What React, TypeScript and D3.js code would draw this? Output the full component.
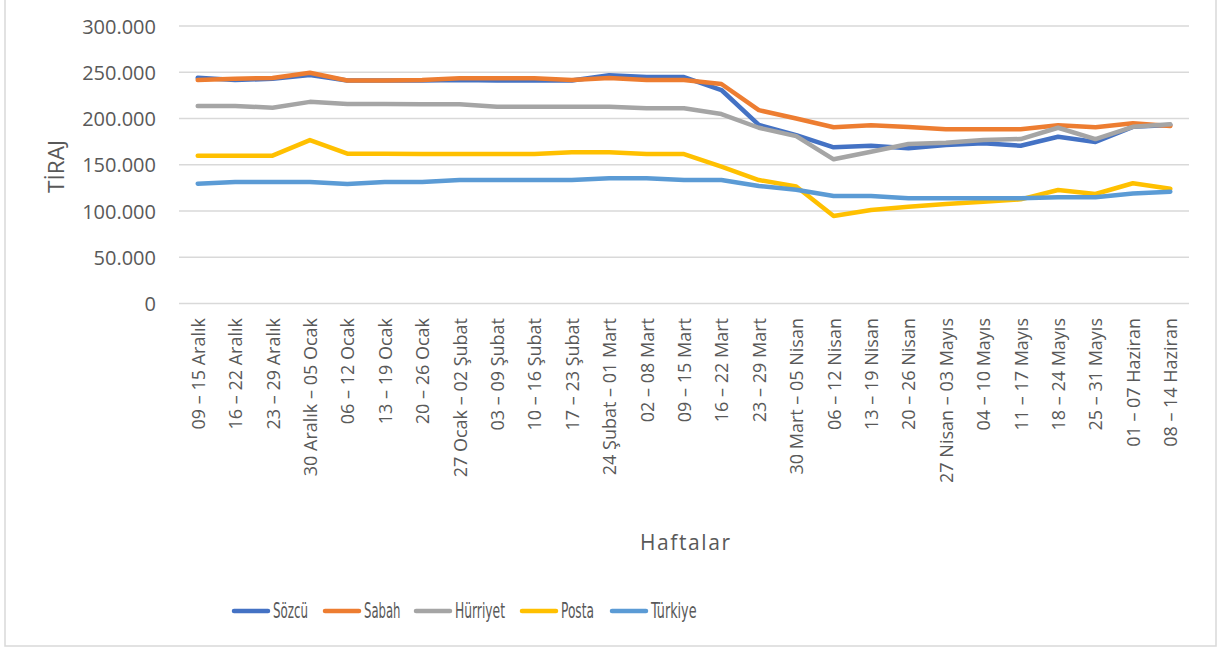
import React from "react";
import * as d3 from "d3";

const categories = [
  "09 – 15 Aralık", "16 – 22 Aralık", "23 – 29 Aralık", "30 Aralık – 05 Ocak",
  "06 – 12 Ocak", "13 – 19 Ocak", "20 – 26 Ocak", "27 Ocak – 02 Şubat",
  "03 – 09 Şubat", "10 – 16 Şubat", "17 – 23 Şubat", "24 Şubat – 01 Mart",
  "02 – 08 Mart", "09 – 15 Mart", "16 – 22 Mart", "23 – 29 Mart",
  "30 Mart – 05 Nisan", "06 – 12 Nisan", "13 – 19 Nisan", "20 – 26 Nisan",
  "27 Nisan – 03 Mayıs", "04 – 10 Mayıs", "11 – 17 Mayıs", "18 – 24 Mayıs",
  "25 – 31 Mayıs", "01 – 07 Haziran", "08 – 14 Haziran",
];

const sozcu = [244000, 241500, 243000, 247000, 241000, 241000, 241000, 241500, 241000, 241000, 241000, 246700, 244800, 244800, 230800, 193000, 182000, 168800, 170600, 167800, 171300, 173200, 170600, 180300, 174600, 191000, 193000];
const sabah = [241600, 243000, 243800, 249500, 241000, 241000, 241600, 243400, 243400, 243400, 241600, 243800, 241600, 241600, 237300, 209000, 200000, 190500, 192600, 190800, 188300, 188300, 188300, 192600, 190500, 194800, 191900];
const hurriyet = [213500, 213500, 211700, 218000, 215700, 215700, 215300, 215300, 212700, 212700, 212700, 212700, 211000, 211000, 204800, 190000, 181000, 155900, 164000, 172400, 173800, 176700, 177800, 190000, 177800, 191000, 193700];
const posta = [159800, 159800, 159800, 176700, 162000, 162000, 161600, 161600, 161600, 161600, 163400, 163400, 161600, 161600, 148000, 133500, 126500, 94600, 101000, 104600, 107600, 110000, 112600, 122700, 118400, 130000, 124000];
const turkiye = [129500, 131300, 131300, 131300, 129200, 131300, 131300, 133500, 133500, 133500, 133500, 135300, 135300, 133500, 133500, 127000, 123000, 116200, 116200, 113700, 113700, 113700, 113700, 114800, 114800, 119000, 120900];

const seriesNames = ["Sözcü", "Sabah", "Hürriyet", "Posta", "Türkiye"];
const seriesColors = ["#4472C4", "#ED7D31", "#A5A5A5", "#FFC000", "#5B9BD5"];
const seriesValues = [sozcu, sabah, hurriyet, posta, turkiye];
const yTicks = [0, 50000, 100000, 150000, 200000, 250000, 300000];

const FONT = "'Open Sans', 'Liberation Sans', sans-serif";
const NARROW = "'Liberation Sans Narrow', 'DejaVu Sans Condensed', 'Liberation Sans', sans-serif";
const TEXT = "#595959";

export default function App() {
  const W = 1219, H = 648;
  const left = 179, right = 1189, top = 26, bottom = 303.5;
  const x = d3.scaleBand<string>().domain(categories).range([left, right]);
  const y = d3.scaleLinear().domain([0, 300000]).range([bottom, top]);
  const fmt = (v: number) => (v === 0 ? "0" : d3.format(",")(v).replace(/,/g, "."));
  const line = d3
    .line<number>()
    .x((_, i) => (x(categories[i]) as number) + x.bandwidth() / 2)
    .y((v) => y(v));

  const legendX = [234, 325, 416, 522, 612];
  const legendTextW = [35, 36.5, 50, 33, 45.5];
  const legendY = 611;

  return (
    <svg width={W} height={H} style={{ position: "absolute", left: 0, top: 0, background: "#fff" }}>
      <rect x={5} y={-5} width={1211} height={651} fill="#fff" stroke="#d9d9d9" strokeWidth={1.5} />
      {yTicks.map((t) => (
        <g key={t}>
          <line x1={left} x2={right} y1={y(t)} y2={y(t)} stroke="#d9d9d9" strokeWidth={1.3} />
          <text x={156} y={y(t)} textAnchor="end" dominantBaseline="central" fontFamily={FONT} fontSize={20} fill={TEXT}>
            {fmt(t)}
          </text>
        </g>
      ))}
      {categories.map((c) => {
        const cx = (x(c) as number) + x.bandwidth() / 2;
        return (
          <text
            key={c}
            transform={`translate(${cx},318) rotate(-90)`}
            textAnchor="end"
            dominantBaseline="central"
            fontFamily={FONT}
            fontSize={18}
            fill={TEXT}
          >
            {c}
          </text>
        );
      })}
      {seriesValues.map((vals, k) => (
        <path
          key={seriesNames[k]}
          d={line(vals) || ""}
          fill="none"
          stroke={seriesColors[k]}
          strokeWidth={4.5}
          strokeLinejoin="round"
          strokeLinecap="round"
        />
      ))}
      <text
        transform="translate(56,166.5) rotate(-90)"
        textAnchor="middle"
        dominantBaseline="central"
        fontFamily={FONT}
        fontSize={21}
        fill={TEXT}
        textLength={53}
        lengthAdjust="spacingAndGlyphs"
      >
        TİRAJ
      </text>
      <text
        x={685}
        y={542}
        textAnchor="middle"
        dominantBaseline="central"
        fontFamily={FONT}
        fontSize={21}
        fill={TEXT}
        textLength={90}
        lengthAdjust="spacing"
      >
        Haftalar
      </text>
      {seriesNames.map((n, k) => (
        <g key={n}>
          <line x1={legendX[k]} x2={legendX[k] + 34} y1={legendY} y2={legendY} stroke={seriesColors[k]} strokeWidth={4.5} strokeLinecap="round" />
          <text
            x={legendX[k] + 39}
            y={legendY}
            dominantBaseline="central"
            fontFamily={NARROW}
            fontSize={21}
            fill={TEXT}
            textLength={legendTextW[k]}
            lengthAdjust="spacingAndGlyphs"
          >
            {n}
          </text>
        </g>
      ))}
    </svg>
  );
}
